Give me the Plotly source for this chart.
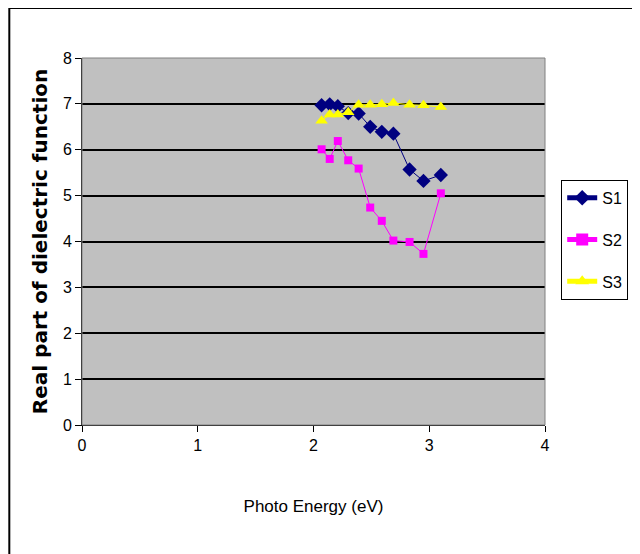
import plotly.graph_objects as go

energy = [2.07, 2.14, 2.21, 2.30, 2.39, 2.49, 2.59, 2.69, 2.83, 2.95, 3.10]
s1 = [6.97, 6.99, 6.95, 6.80, 6.79, 6.50, 6.39, 6.35, 5.57, 5.32, 5.45]
s2 = [6.01, 5.80, 6.19, 5.77, 5.59, 4.74, 4.45, 4.02, 3.99, 3.73, 5.05]
s3 = [6.63, 6.77, 6.77, 6.82, 6.98, 6.98, 6.99, 7.02, 6.98, 6.97, 6.93]
x_ticks = [0, 1, 2, 3, 4]
y_ticks = [0, 1, 2, 3, 4, 5, 6, 7, 8]

narrow = "Liberation Sans Narrow, Arial Narrow, Liberation Sans, Arial"

fig = go.Figure()
fig.add_trace(go.Scatter(x=energy, y=s1, name="S1", mode="lines+markers", legendgroup="a",
                         line=dict(color="#000080", width=1),
                         marker=dict(symbol="diamond", size=11, color="#000080")))
fig.add_trace(go.Scatter(x=energy, y=s2, name="S2", mode="lines+markers", legendgroup="b",
                         line=dict(color="#FF00FF", width=1),
                         marker=dict(symbol="square", size=8, color="#FF00FF")))
fig.add_trace(go.Scatter(x=energy, y=s3, name="S3", mode="lines+markers", legendgroup="c",
                         line=dict(color="#FFFF00", width=1),
                         marker=dict(symbol="triangle-up", size=11, color="#FFFF00")))

fig.update_layout(
    width=632, height=546,
    margin=dict(l=74, r=95, t=50, b=129, autoexpand=False),
    paper_bgcolor="white", plot_bgcolor="#C0C0C0",
    showlegend=True,
    legend=dict(x=1.035, y=0.668, xanchor="left", yanchor="top",
                bordercolor="black", borderwidth=1, bgcolor="white",
                font=dict(family=narrow, size=16, color="black"),
                itemsizing="constant", tracegroupgap=18, itemwidth=30),
    xaxis=dict(range=[0, 4], tickvals=x_ticks, showgrid=False, zeroline=False,
               automargin=False,
               showline=True, linecolor="black", linewidth=1,
               ticks="outside", ticklen=6, tickcolor="black",
               tickfont=dict(family=narrow, size=16, color="black"),
               title=dict(text="Photo Energy (eV)", standoff=46,
                          font=dict(family=narrow, size=17, color="black"))),
    yaxis=dict(range=[0, 8], tickvals=y_ticks, showgrid=True, gridcolor="black",
               gridwidth=2, zeroline=False, automargin=False,
               showline=True, linecolor="black", linewidth=1,
               ticks="outside", ticklen=6, tickcolor="black",
               tickfont=dict(family=narrow, size=16, color="black"),
               title=dict(text="<b>Real part of dielectric function</b>", standoff=9,
                          font=dict(family="DejaVu Sans, Liberation Sans", size=20, color="black"))),
    shapes=[
        dict(type="line", xref="paper", yref="paper", x0=-0.157, x1=1.3,
             y0=1.136, y1=1.136, line=dict(color="black", width=2)),
        dict(type="line", xref="paper", yref="paper", x0=-0.157, x1=-0.157,
             y0=1.136, y1=-0.4, line=dict(color="black", width=2)),
        dict(type="rect", xref="paper", yref="paper", x0=0, x1=1, y0=0, y1=1,
             line=dict(color="#808080", width=1)),
    ],
)

fig.write_html("out.html")
